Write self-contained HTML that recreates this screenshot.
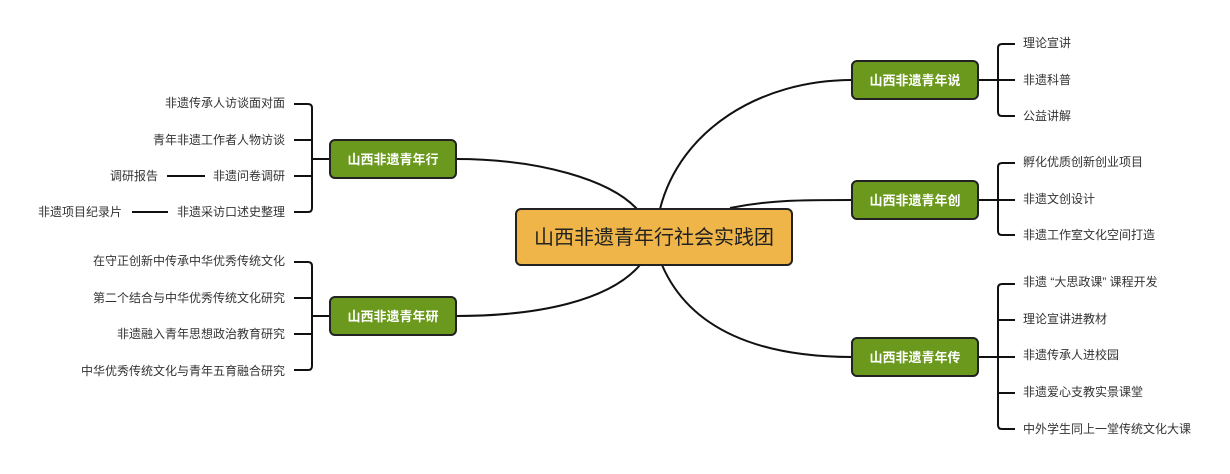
<!DOCTYPE html>
<html><head><meta charset="utf-8"><style>
html,body{margin:0;padding:0;background:#fff;}
svg{display:block;}
text{font-family:"Liberation Sans","Noto Sans CJK SC",sans-serif;}
.l{font-size:12px;fill:#333;}
.g{font-size:13px;fill:#fff;font-weight:bold;}
</style></head><body>
<svg width="1230" height="474" viewBox="0 0 1230 474" xmlns="http://www.w3.org/2000/svg">
<g fill="none" stroke="#111" stroke-width="2">
<path d="M456 159 C540 159 610 180 637 209"/>
<path d="M660 209 C680 130 760 80 852 80"/>
<path d="M730 208 C770 200 800 200 852 200"/>
<path d="M456 316 C540 316 610 300 640 265"/>
<path d="M662 265 C690 330 760 357 852 357"/>
</g>
<g fill="none" stroke="#111" stroke-width="2">
<path d="M294 104 H308 Q312 104 312 108 V208 Q312 212 308 212 H294"/>
<path d="M294 140 H312 M294 176 H312 M312 159 H330" />
<path d="M167 176 H205 M132 212 H168"/>
<path d="M294 262 H308 Q312 262 312 266 V366 Q312 370 308 370 H294"/>
<path d="M294 298 H312 M294 334 H312 M312 316 H330"/>
<path d="M1015 44 H1002 Q998 44 998 48 V112 Q998 116 1002 116 H1015"/>
<path d="M978 80 H1015"/>
<path d="M1015 163 H1002 Q998 163 998 167 V231 Q998 235 1002 235 H1015"/>
<path d="M978 200 H1015"/>
<path d="M1015 284 H1002 Q998 284 998 288 V425 Q998 429 1002 429 H1015"/>
<path d="M998 320 H1015 M978 357 H1015 M998 393 H1015"/>
</g>
<rect x="516" y="209" width="276" height="56" rx="5" fill="#efb548" stroke="#222" stroke-width="2"/>
<text x="654" y="244" text-anchor="middle" style="font-size:20px;fill:#222">山西非遗青年行社会实践团</text>
<g fill="#6b991e" stroke="#222" stroke-width="2">
<rect x="330" y="140" width="126" height="38" rx="5"/>
<rect x="330" y="297" width="126" height="38" rx="5"/>
<rect x="852" y="61" width="126" height="38" rx="5"/>
<rect x="852" y="181" width="126" height="38" rx="5"/>
<rect x="852" y="338" width="126" height="38" rx="5"/>
</g>
<g class="g" text-anchor="middle">
<text x="393" y="164">山西非遗青年行</text>
<text x="393" y="321">山西非遗青年研</text>
<text x="915" y="85">山西非遗青年说</text>
<text x="915" y="205">山西非遗青年创</text>
<text x="915" y="362">山西非遗青年传</text>
</g>
<g class="l" text-anchor="end">
<text x="285" y="107">非遗传承人访谈面对面</text>
<text x="285" y="144">青年非遗工作者人物访谈</text>
<text x="285" y="180">非遗问卷调研</text>
<text x="158" y="180">调研报告</text>
<text x="285" y="216">非遗采访口述史整理</text>
<text x="122" y="216">非遗项目纪录片</text>
<text x="285" y="265">在守正创新中传承中华优秀传统文化</text>
<text x="285" y="302">第二个结合与中华优秀传统文化研究</text>
<text x="285" y="338">非遗融入青年思想政治教育研究</text>
<text x="285" y="375">中华优秀传统文化与青年五育融合研究</text>
</g>
<g class="l">
<text x="1023" y="47">理论宣讲</text>
<text x="1023" y="84">非遗科普</text>
<text x="1023" y="120">公益讲解</text>
<text x="1023" y="166">孵化优质创新创业项目</text>
<text x="1023" y="203">非遗文创设计</text>
<text x="1023" y="239">非遗工作室文化空间打造</text>
<text x="1023" y="286">非遗 “大思政课” 课程开发</text>
<text x="1023" y="323">理论宣讲进教材</text>
<text x="1023" y="359">非遗传承人进校园</text>
<text x="1023" y="396">非遗爱心支教实景课堂</text>
<text x="1023" y="433">中外学生同上一堂传统文化大课</text>
</g>
</svg>
</body></html>
